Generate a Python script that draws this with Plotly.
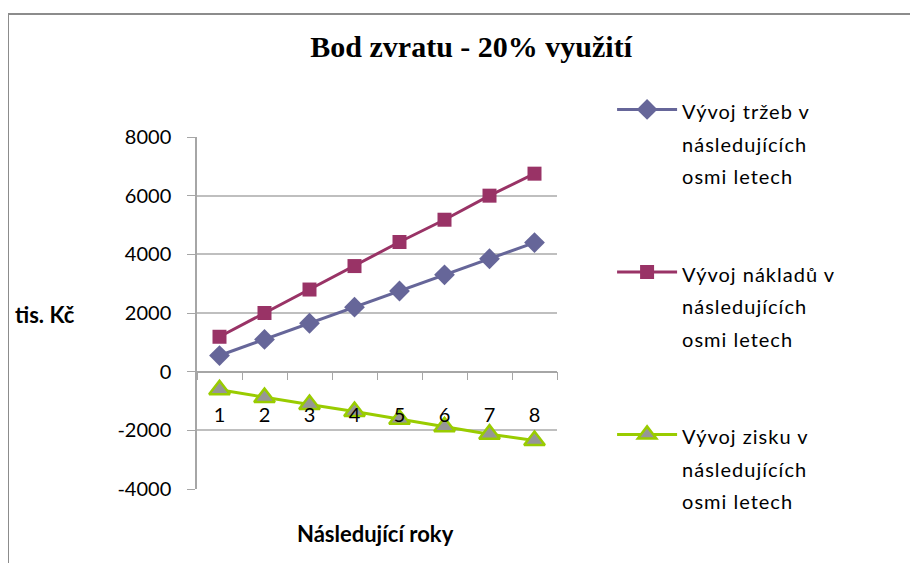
import plotly.graph_objects as go

# data (tis. Kč)
roky = ["1", "2", "3", "4", "5", "6", "7", "8"]
trzby = [550, 1100, 1650, 2200, 2750, 3300, 3850, 4400]
naklady = [1190, 2000, 2800, 3600, 4420, 5180, 6000, 6750]
zisk = [-620, -880, -1120, -1360, -1620, -1880, -2130, -2350]

nazvy = [
    "Vývoj tržeb v<br>následujících<br>osmi letech",
    "Vývoj nákladů v<br>následujících<br>osmi letech",
    "Vývoj zisku v<br>následujících<br>osmi letech",
]

y_ticks = [-4000, -2000, 0, 2000, 4000, 6000, 8000]
y_ticktext = ["-4000", "-2000", "0", "2000", "4000", "6000", "8000"]

FONT = "Lato, 'Open Sans', sans-serif"
AXIS_GREY = "#a6a6a6"


def wrap(name):
    # smaller visible text, larger legend font keeps the wide line spacing
    return f"<span style='font-size:20px;letter-spacing:1px'>{name}</span>"


fig = go.Figure()

fig.add_trace(go.Scatter(
    x=roky, y=trzby, name=wrap(nazvy[0]), mode="lines+markers",
    line=dict(color="#666699", width=3),
    marker=dict(symbol="diamond", size=16, color="#666699"),
    legendgroup="a",
))
fig.add_trace(go.Scatter(
    x=roky, y=naklady, name=wrap(nazvy[1]), mode="lines+markers",
    line=dict(color="#993366", width=3),
    marker=dict(symbol="square", size=14, color="#993366"),
    legendgroup="b",
))
fig.add_trace(go.Scatter(
    x=roky, y=zisk, name=wrap(nazvy[2]), mode="lines+markers",
    line=dict(color="#99CC00", width=3),
    marker=dict(symbol="triangle-up", size=18, color="#969696",
                line=dict(color="#99CC00", width=2.5)),
    legendgroup="c",
))

# page has an 8px body margin, so the figure is drawn 8px smaller
fig.update_layout(
    width=910,
    height=555,
    margin=dict(l=189, r=361, t=129, b=74),
    plot_bgcolor="white",
    paper_bgcolor="white",
    font=dict(family=FONT, size=20, color="black"),
    title=dict(
        text="<b>Bod zvratu - 20% využití</b>",
        font=dict(family="Liberation Serif, serif", size=30, color="black"),
        x=0.509, xanchor="center", y=0.93, yanchor="middle",
    ),
    showlegend=True,
    legend=dict(
        x=1.153, xanchor="left", y=1.143, yanchor="top",
        font=dict(family=FONT, size=25),
        valign="top",
        tracegroupgap=62,
        itemwidth=60,
        maxheight=560,
        bgcolor="rgba(0,0,0,0)",
    ),
    xaxis=dict(
        type="category",
        range=[-0.5, 7.5],
        anchor="free",
        position=1 / 3,
        showline=True,
        linecolor=AXIS_GREY,
        linewidth=1.5,
        ticks="outside",
        tickson="boundaries",
        ticklen=8,
        tickcolor=AXIS_GREY,
        showgrid=False,
        ticklabelstandoff=26,
        tickfont=dict(size=20),
    ),
    yaxis=dict(
        range=[-4000, 8000],
        tickvals=y_ticks,
        ticktext=y_ticktext,
        showline=True,
        linecolor=AXIS_GREY,
        linewidth=1.5,
        ticks="outside",
        ticklen=8,
        tickcolor=AXIS_GREY,
        showgrid=True,
        gridcolor="#bfbfbf",
        gridwidth=1.5,
        zeroline=False,
        ticklabelstandoff=12,
        tickfont=dict(size=20),
    ),
    annotations=[
        dict(text="<b>tis. Kč</b>", xref="paper", yref="paper",
             x=-0.511, y=(489 - 314) / 352, xanchor="left", yanchor="middle",
             showarrow=False, font=dict(family=FONT, size=22)),
        dict(text="<b>Následující roky</b>", xref="paper", yref="paper",
             x=(375 - 197) / 360, y=(489 - 533) / 352, xanchor="center",
             yanchor="middle", showarrow=False, font=dict(family=FONT, size=22)),
    ],
    shapes=[
        dict(type="line", xref="paper", yref="paper",
             x0=(8 - 197) / 360, x1=(930 - 197) / 360,
             y0=(489 - 14) / 352, y1=(489 - 14) / 352,
             line=dict(color="#8c8c8c", width=2)),
        dict(type="line", xref="paper", yref="paper",
             x0=(8 - 197) / 360, x1=(8 - 197) / 360,
             y0=(489 - 14) / 352, y1=(489 - 580) / 352,
             line=dict(color="#8c8c8c", width=2)),
    ],
)

fig.write_html("out.html")
